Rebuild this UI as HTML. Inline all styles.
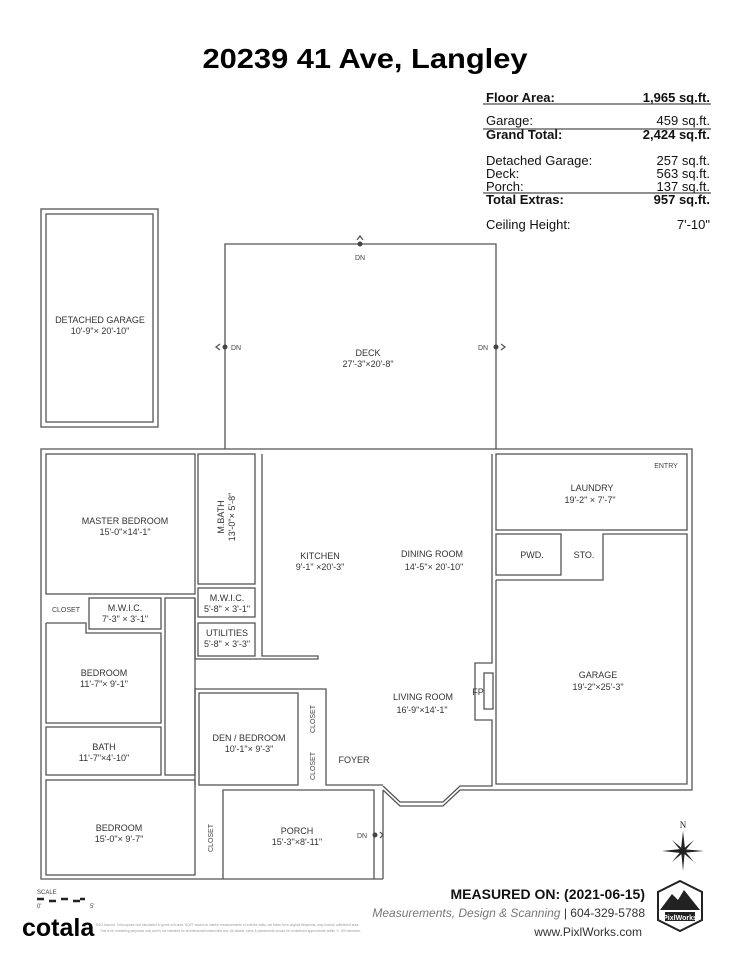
<!DOCTYPE html>
<html><head><meta charset="utf-8"><style>
html,body{margin:0;padding:0;background:#fff;}
svg{display:block;font-family:"Liberation Sans","DejaVu Sans",sans-serif;}
.w{fill:none;stroke:#555;stroke-width:1.3;}
.t{font-size:9px;fill:#333;text-anchor:middle;}
.s{font-size:7px;fill:#444;}
</style></head><body>
<svg width="741" height="960" viewBox="0 0 741 960" xmlns="http://www.w3.org/2000/svg">
<rect width="741" height="960" fill="#fff"/>
<text x="365" y="68" font-size="28" font-weight="bold" text-anchor="middle" fill="#000" textLength="325" lengthAdjust="spacingAndGlyphs">20239 41 Ave, Langley</text>

<!-- area table -->
<g font-size="13" fill="#111">
<text x="486" y="102" font-weight="bold">Floor Area:</text><text x="710" y="102" font-weight="bold" text-anchor="end">1,965 sq.ft.</text>
<line x1="483" y1="104" x2="711" y2="104" stroke="#222" stroke-width="1"/>
<text x="486" y="125">Garage:</text><text x="710" y="125" text-anchor="end">459 sq.ft.</text>
<line x1="483" y1="129" x2="711" y2="129" stroke="#222" stroke-width="1"/>
<text x="486" y="139" font-weight="bold">Grand Total:</text><text x="710" y="139" font-weight="bold" text-anchor="end">2,424 sq.ft.</text>
<text x="486" y="165">Detached Garage:</text><text x="710" y="165" text-anchor="end">257 sq.ft.</text>
<text x="486" y="178">Deck:</text><text x="710" y="178" text-anchor="end">563 sq.ft.</text>
<text x="486" y="191">Porch:</text><text x="710" y="191" text-anchor="end">137 sq.ft.</text>
<line x1="483" y1="193" x2="711" y2="193" stroke="#222" stroke-width="1"/>
<text x="486" y="204" font-weight="bold">Total Extras:</text><text x="710" y="204" font-weight="bold" text-anchor="end">957 sq.ft.</text>
<text x="486" y="229">Ceiling Height:</text><text x="710" y="229" text-anchor="end">7'-10"</text>
</g>

<!-- detached garage -->
<rect class="w" x="41" y="209" width="117" height="218"/>
<rect class="w" x="46" y="214" width="107" height="208"/>
<text class="t" x="100" y="323">DETACHED GARAGE</text><text class="t" x="100" y="334">10'-9"× 20'-10"</text>

<!-- deck -->
<polyline class="w" points="225,449 225,244 496,244 496,449"/>
<text class="t" x="368" y="356">DECK</text><text class="t" x="368" y="367">27'-3"×20'-8"</text>
<circle cx="360" cy="244" r="2.5" fill="#444"/><path d="M357,240 L360,236 L363,240" class="w" stroke-width="1.6"/>
<text class="s" x="360" y="260" text-anchor="middle">DN</text>
<circle cx="225" cy="347" r="2.5" fill="#444"/><path d="M220,344 L216,347 L220,350" class="w" stroke-width="1.6"/><text class="s" x="231" y="350">DN</text>
<circle cx="496" cy="347" r="2.5" fill="#444"/><path d="M501,344 L505,347 L501,350" class="w" stroke-width="1.6"/><text class="s" x="478" y="350">DN</text>

<!-- house outer -->
<polyline class="w" points="383,879 41,879 41,449 692,449 692,790 460,790 443,806 400,806 383,790"/>
<polyline class="w" points="383,790 383,879"/>

<!-- master bedroom -->
<rect class="w" x="46" y="454" width="149" height="140"/>
<text class="t" x="125" y="524">MASTER BEDROOM</text><text class="t" x="125" y="535">15'-0"×14'-1"</text>
<!-- m.bath -->
<rect class="w" x="198" y="454" width="57" height="130"/>
<text class="t" transform="translate(224,517) rotate(-90)">M.BATH</text>
<text class="t" transform="translate(235,517) rotate(-90)">13'-0"× 5'-8"</text>
<rect class="w" x="198" y="588" width="57" height="29"/>
<text class="t" x="227" y="601">M.W.I.C.</text><text class="t" x="227" y="612">5'-8" × 3'-1"</text>
<rect class="w" x="198" y="623" width="57" height="33"/>
<text class="t" x="227" y="636">UTILITIES</text><text class="t" x="227" y="647">5'-8" × 3'-3"</text>
<polyline class="w" points="195,598 195,659 318,659 318,656 262,656 262,454"/>
<polyline class="w" points="195,598 195,598"/>

<!-- closet / mwic -->
<text class="s" x="66" y="612" text-anchor="middle">CLOSET</text>
<rect class="w" x="89" y="598" width="72" height="31"/>
<text class="t" x="125" y="611">M.W.I.C.</text><text class="t" x="125" y="622">7'-3" × 3'-1"</text>
<!-- hall strip -->
<rect class="w" x="165" y="598" width="30" height="177"/>
<!-- bedroom -->
<polyline class="w" points="46,623 86,623 86,633 161,633 161,723 46,723 46,623"/>
<text class="t" x="104" y="676">BEDROOM</text><text class="t" x="104" y="687">11'-7"× 9'-1"</text>
<rect class="w" x="46" y="727" width="115" height="48"/>
<text class="t" x="104" y="750">BATH</text><text class="t" x="104" y="761">11'-7"×4'-10"</text>
<rect class="w" x="46" y="780" width="149" height="95"/>
<text class="t" x="119" y="831">BEDROOM</text><text class="t" x="119" y="842">15'-0"× 9'-7"</text>
<text class="s" transform="translate(213,838) rotate(-90)" text-anchor="middle">CLOSET</text>

<!-- den -->
<polyline class="w" points="195,785 195,689 326,689 326,785 383,785"/>
<rect class="w" x="199" y="693" width="99" height="92"/>
<text class="t" x="249" y="741">DEN / BEDROOM</text><text class="t" x="249" y="752">10'-1"× 9'-3"</text>
<text class="s" transform="translate(315,719) rotate(-90)" text-anchor="middle">CLOSET</text>
<text class="s" transform="translate(315,766) rotate(-90)" text-anchor="middle">CLOSET</text>
<text class="t" x="354" y="763">FOYER</text>

<!-- porch -->
<polyline class="w" points="223,879 223,790 374,790 374,879"/>
<text class="t" x="297" y="834">PORCH</text><text class="t" x="297" y="845">15'-3"×8'-11"</text>
<circle cx="375" cy="835" r="2.5" fill="#444"/><path d="M380,832 L383,835 L380,838" class="w" stroke-width="1.6"/><text class="s" x="357" y="838">DN</text>

<!-- kitchen/dining/living -->
<polyline class="w" points="383,786 400,802 443,802 460,786 492,786 492,720 475,720 475,663 492,663 492,454"/>
<rect class="w" x="484" y="673" width="9" height="36"/>
<text class="t" x="478" y="695" font-size="8">FP</text>
<text class="t" x="320" y="559">KITCHEN</text><text class="t" x="320" y="570">9'-1" ×20'-3"</text>
<text class="t" x="432" y="557">DINING ROOM</text><text class="t" x="434" y="570">14'-5"× 20'-10"</text>
<text class="t" x="423" y="700">LIVING ROOM</text><text class="t" x="422" y="713">16'-9"×14'-1"</text>

<!-- garage block -->
<rect class="w" x="496" y="454" width="191" height="76"/>
<text class="s" x="666" y="468" text-anchor="middle">ENTRY</text>
<text class="t" x="592" y="491">LAUNDRY</text><text class="t" x="590" y="503">19'-2" × 7'-7"</text>
<rect class="w" x="496" y="534" width="65" height="41"/>
<text class="t" x="532" y="558" font-size="8">PWD.</text><text class="t" x="584" y="558" font-size="8">STO.</text>
<polyline class="w" points="496,580 603,580 603,534 687,534 687,784 496,784 496,580"/>
<text class="t" x="598" y="678">GARAGE</text><text class="t" x="598" y="690">19'-2"×25'-3"</text>

<!-- compass -->
<text x="683" y="828" font-size="9" text-anchor="middle" font-family="Liberation Serif,serif" fill="#222">N</text>
<g transform="translate(683,851)" fill="#222">
<polygon points="0,-20 2,-2 0,20 -2,-2"/><polygon points="-21,0 -2,-2 21,0 -2,2"/>
<polygon points="-11,-11 1,-1 11,11 -1,1"/><polygon points="11,-11 1,1 -11,11 -1,-1"/>
</g>
<!-- scale -->
<text x="37" y="894" font-size="6" fill="#444">SCALE</text>
<path d="M37,899 h7 M49,901 h7 M61,899 h7 M73,901 h7 M80,899 h5" stroke="#222" stroke-width="2.5"/>
<text x="37" y="908" font-size="6" fill="#444">0'</text><text x="90" y="908" font-size="6" fill="#444">5'</text>
<text x="22" y="936" font-size="25" font-weight="bold" fill="#000">cotala</text>
<text x="96" y="926" font-size="3.3" fill="#999">E&amp;O Insured. Total square foot calculated to gross unit area. SQFT based on interior measurements to exterior walls, not taken from original blueprints, may include unfinished area.</text>
<text x="100" y="932" font-size="3.3" fill="#999">This is for marketing purposes only and is not intended for architectural/construction use. All details, sizes &amp; placements should be considered approximate within +/- 3% tolerance.</text>
<!-- footer -->
<text x="645" y="899" font-size="14" font-weight="bold" text-anchor="end" fill="#111">MEASURED ON: (2021-06-15)</text>
<text x="645" y="917" font-size="12" text-anchor="end" fill="#777"><tspan font-style="italic">Measurements, Design &amp; Scanning</tspan> <tspan fill="#333">| 604-329-5788</tspan></text>
<text x="642" y="936" font-size="12" text-anchor="end" fill="#333">www.PixlWorks.com</text>
<!-- logo -->
<g transform="translate(680,906)">
<polygon points="0,-25 22,-14 22,14 0,25 -22,14 -22,-14" fill="none" stroke="#222" stroke-width="2"/>
<polygon points="-20,4 -8,-12 -2,-6 4,-16 20,4" fill="#222"/>
<rect x="-15" y="6" width="30" height="9" fill="#222"/>
<text x="0" y="14" font-size="7" font-weight="bold" fill="#fff" text-anchor="middle">PixlWorks</text>
</g>
</svg>
</body></html>
